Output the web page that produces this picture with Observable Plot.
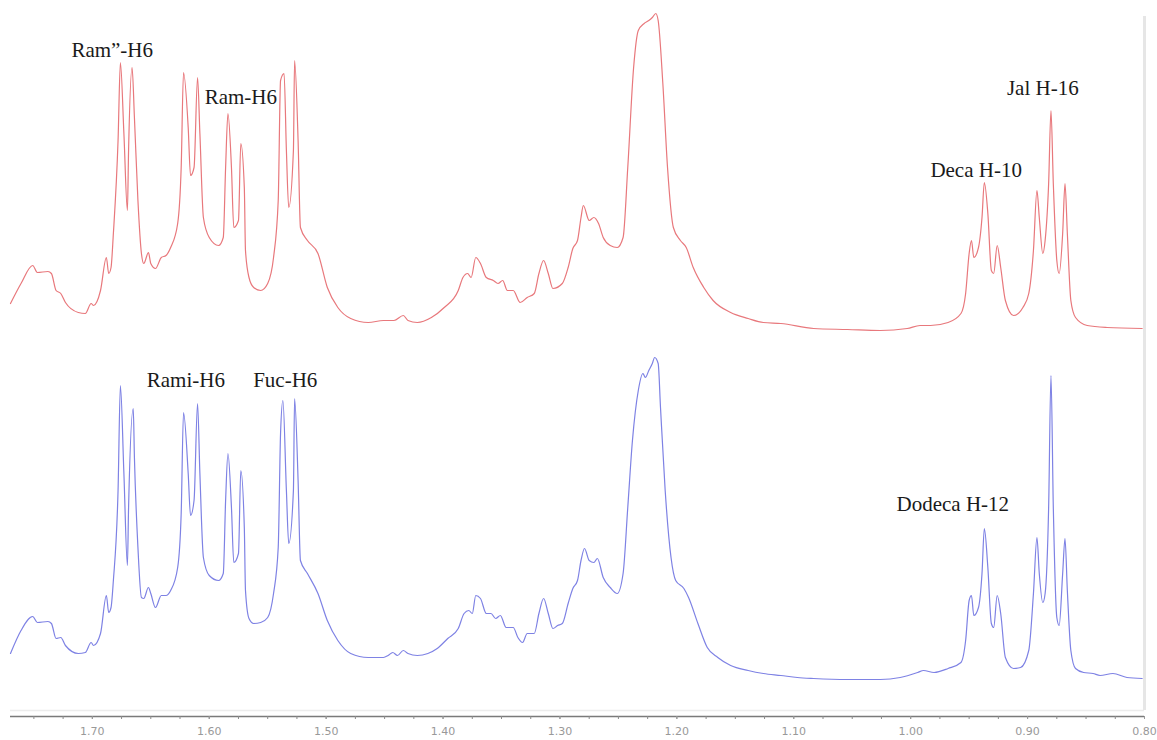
<!DOCTYPE html>
<html>
<head>
<meta charset="utf-8">
<script src="https://cdn.jsdelivr.net/npm/d3@7"></script>
<script src="https://cdn.jsdelivr.net/npm/@observablehq/plot@0.6"></script>
<style>
  html, body { margin: 0; padding: 0; background: #fff; }
  #chart { width: 1157px; height: 740px; }
</style>
</head>
<body>
<div id="chart"></div>
<script>
// 1H NMR, methyl region: two stacked spectra (upper red, lower blue), chemical shift in ppm.

const redShift = [1.770,1.761,1.751,1.747,1.738,1.735,1.731,1.727,1.723,1.712,1.706,1.701,1.699,1.693,1.688,1.686,1.684,1.682,1.678,1.676,1.673,1.670,1.669,1.666,1.664,1.661,1.658,1.656,1.652,1.650,1.646,1.641,1.637,1.633,1.627,1.624,1.622,1.618,1.616,1.613,1.610,1.608,1.605,1.600,1.592,1.588,1.586,1.584,1.581,1.579,1.575,1.573,1.570,1.569,1.566,1.562,1.556,1.550,1.545,1.541,1.539,1.536,1.534,1.532,1.528,1.527,1.524,1.522,1.516,1.507,1.499,1.490,1.479,1.464,1.451,1.442,1.434,1.430,1.422,1.410,1.399,1.387,1.383,1.379,1.376,1.372,1.368,1.363,1.357,1.353,1.349,1.345,1.340,1.334,1.328,1.322,1.318,1.314,1.310,1.306,1.298,1.293,1.289,1.285,1.282,1.280,1.275,1.271,1.267,1.263,1.257,1.251,1.246,1.242,1.237,1.233,1.228,1.224,1.221,1.218,1.216,1.212,1.208,1.203,1.197,1.192,1.186,1.177,1.169,1.154,1.139,1.126,1.111,1.083,1.054,1.026,1.003,0.992,0.983,0.968,0.957,0.953,0.950,0.948,0.946,0.942,0.939,0.937,0.934,0.931,0.929,0.926,0.923,0.919,0.912,0.904,0.899,0.895,0.892,0.890,0.887,0.885,0.882,0.880,0.878,0.875,0.873,0.870,0.868,0.866,0.863,0.859,0.849,0.832,0.802];
const redIntensity = [27,47,65,58,59,57,40,37,28,18,17,27,25,40,73,57,63,97,190,268,197,120,180,263,213,130,77,67,78,67,62,73,75,83,107,163,258,203,155,163,253,197,113,93,85,93,163,217,163,103,110,187,143,80,53,43,40,47,73,130,250,257,180,123,180,270,190,103,90,77,43,23,12,8,10,10,15,10,8,13,23,40,53,57,53,73,67,53,50,47,50,40,40,28,33,37,57,70,57,42,47,63,82,90,113,125,110,113,107,93,85,83,93,163,263,300,307,310,313,317,310,247,163,103,90,83,63,43,30,18,12,8,7,2,1,0,2,5,5,8,17,37,77,90,73,83,113,148,117,60,57,85,63,30,15,23,37,80,140,113,77,90,147,220,147,70,57,97,147,97,30,13,5,3,2];

const blueShift = [1.770,1.761,1.751,1.747,1.738,1.735,1.731,1.727,1.723,1.712,1.706,1.701,1.699,1.693,1.688,1.686,1.684,1.682,1.678,1.676,1.673,1.670,1.669,1.665,1.664,1.661,1.658,1.656,1.652,1.650,1.646,1.641,1.637,1.633,1.627,1.624,1.622,1.618,1.616,1.613,1.610,1.608,1.605,1.600,1.592,1.588,1.586,1.584,1.581,1.579,1.575,1.573,1.570,1.569,1.566,1.562,1.556,1.550,1.545,1.541,1.539,1.537,1.534,1.532,1.528,1.527,1.524,1.522,1.516,1.507,1.499,1.490,1.479,1.464,1.451,1.447,1.443,1.439,1.434,1.430,1.422,1.413,1.405,1.396,1.387,1.382,1.378,1.375,1.372,1.368,1.363,1.359,1.355,1.351,1.346,1.340,1.336,1.332,1.328,1.322,1.318,1.314,1.310,1.306,1.302,1.298,1.293,1.289,1.285,1.282,1.279,1.275,1.271,1.268,1.263,1.257,1.251,1.246,1.242,1.238,1.233,1.229,1.227,1.224,1.221,1.219,1.216,1.214,1.210,1.205,1.201,1.194,1.190,1.182,1.174,1.165,1.154,1.139,1.126,1.111,1.097,1.083,1.054,1.026,1.009,0.994,0.989,0.980,0.968,0.957,0.953,0.950,0.948,0.946,0.942,0.939,0.937,0.934,0.931,0.929,0.926,0.923,0.919,0.912,0.906,0.899,0.895,0.892,0.890,0.887,0.885,0.882,0.880,0.878,0.875,0.873,0.870,0.868,0.866,0.863,0.859,0.852,0.844,0.838,0.827,0.815,0.802];
const blueIntensity = [37,60,74,68,69,67,52,53,45,37,38,48,45,57,95,78,83,110,200,305,217,125,183,282,233,143,93,92,103,97,83,95,95,100,123,177,278,217,175,190,287,217,133,115,110,117,190,237,183,128,137,220,163,100,72,67,68,73,97,143,257,290,200,147,200,292,210,130,117,97,70,50,37,33,33,35,38,35,40,37,35,37,42,52,62,77,80,77,95,92,77,77,72,75,63,63,53,48,57,57,77,92,77,62,65,67,87,102,110,130,142,130,128,132,113,103,97,117,183,250,300,317,313,320,327,333,327,283,200,133,110,102,93,67,43,33,25,20,17,15,13,12,11,11,13,18,20,18,22,28,50,90,95,75,83,117,162,123,67,63,95,77,33,22,23,40,97,153,117,88,97,183,315,183,73,65,117,152,100,40,22,18,17,15,17,13,12];

// Axis ticks (ppm)
const majorTicks = [1.70, 1.60, 1.50, 1.40, 1.30, 1.20, 1.10, 1.00, 0.90, 0.80];
const minorTicks = d3.range(0, 39).map(k => 0.80 + k * 0.025);

// Signal assignments
const labelText  = ["Ram\u201D-H6", "Ram-H6", "Deca H-10", "Jal H-16", "Rami-H6", "Fuc-H6", "Dodeca H-12"];
const labelShift = [1.683, 1.573, 0.944, 0.887, 1.620, 1.535, 0.964];
const labelLevel = [666, 619, 546, 628, 336, 336, 212];

// vertical stacking of the two spectra
const RED_OFFSET = 386;
const BLUE_OFFSET = 26;

const red = redShift.map((s, i) => ({shift: s, v: redIntensity[i] + RED_OFFSET}));
const blue = blueShift.map((s, i) => ({shift: s, v: blueIntensity[i] + BLUE_OFFSET}));
const labels = labelText.map((t, i) => ({text: t, shift: labelShift[i], v: labelLevel[i]}));

const chart = Plot.plot({
  width: 1157,
  height: 740,
  marginLeft: 10,
  marginRight: 13,
  marginTop: 0,
  marginBottom: 24,
  x: {domain: [1.77, 0.80], label: null},
  y: {domain: [0, 716], axis: null},
  style: {background: "#fff", overflow: "visible"},
  marks: [
    Plot.ruleY([6], {stroke: "#ececec", strokeWidth: 1.5}),
    Plot.ruleX([0.80], {y1: 6, y2: 700, stroke: "#e6e6e6", strokeWidth: 3}),
    Plot.line(red, {x: "shift", y: "v", stroke: "#e8787c", strokeWidth: 1.2, curve: "monotone-x"}),
    Plot.line(blue, {x: "shift", y: "v", stroke: "#7e82e4", strokeWidth: 1.2, curve: "monotone-x"}),
    Plot.ruleY([0], {stroke: "#7a7a7a", strokeWidth: 1.5}),
    Plot.axisX({ticks: minorTicks, tickSize: 3, tickFormat: () => "", stroke: "#8a8a8a", label: null}),
    Plot.axisX({ticks: majorTicks, tickSize: 3, tickPadding: 8, tickFormat: d => d.toFixed(2),
                color: "#999", fontSize: 11, fontFamily: "DejaVu Sans", label: null}),
    Plot.text(labels, {x: "shift", y: "v", text: "text", fontFamily: "Liberation Serif",
                       fontSize: 21, fill: "#1a1a1a"})
  ]
});

document.getElementById("chart").append(chart);
</script>
</body>
</html>
